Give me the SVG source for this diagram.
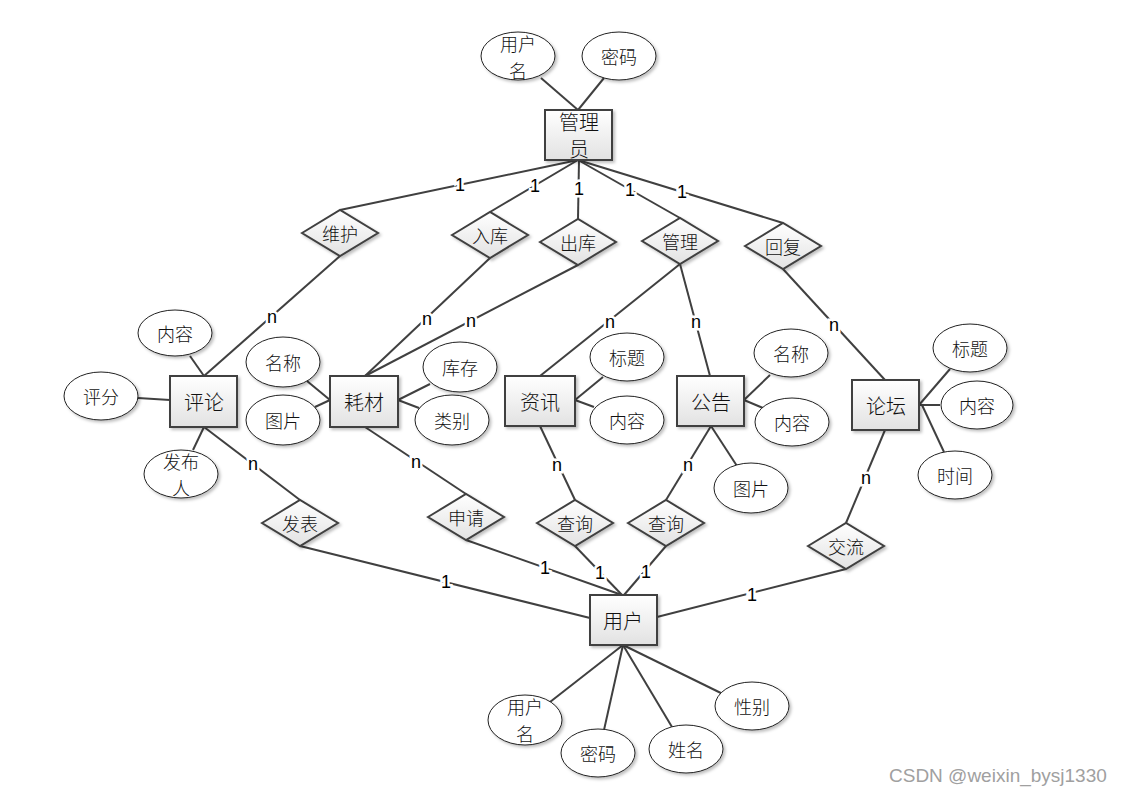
<svg xmlns="http://www.w3.org/2000/svg" width="1121" height="795" viewBox="0 0 1121 795">
<defs>
<linearGradient id="g" x1="0" y1="0" x2="0" y2="1">
<stop offset="0" stop-color="#ffffff"/>
<stop offset="1" stop-color="#e2e2e2"/>
</linearGradient>
<filter id="sh" x="-20%" y="-20%" width="150%" height="150%">
<feDropShadow dx="2" dy="2" stdDeviation="1.5" flood-color="#000" flood-opacity="0.25"/>
</filter>
<style>
.ln{stroke:#404040;stroke-width:2;fill:none}
.ent{fill:url(#g);stroke:#404040;stroke-width:2;filter:url(#sh)}
.rel{fill:url(#g);stroke:#404040;stroke-width:2;filter:url(#sh)}
.att{fill:#fff;stroke:#222;stroke-width:1;filter:url(#sh)}
.t{font-family:"Noto Sans CJK SC","Noto Sans CJK JP",sans-serif;font-size:18px;font-weight:300;text-anchor:middle;dominant-baseline:central;fill:#111}
.te{font-size:20px}
.lb{font-family:"Liberation Sans",Arial,sans-serif;font-size:18px;text-anchor:middle;dominant-baseline:central;fill:#000;stroke:#fff;stroke-width:5;paint-order:stroke}
.wm{font-family:"Liberation Sans",Arial,sans-serif;font-size:19px;fill:#a0a0a0}
</style>
</defs>
<rect width="1121" height="795" fill="#fff"/>

<g id="connectors">
<line class="ln" x1="541" y1="78" x2="578" y2="110"/>
<line class="ln" x1="604" y1="78" x2="578" y2="110"/>
<line class="ln" x1="578" y1="160" x2="340" y2="210"/>
<line class="ln" x1="578" y1="160" x2="490" y2="212"/>
<line class="ln" x1="579" y1="160" x2="578" y2="219"/>
<line class="ln" x1="578" y1="160" x2="680" y2="218"/>
<line class="ln" x1="578" y1="160" x2="783" y2="223"/>
<line class="ln" x1="340" y1="256" x2="204" y2="376"/>
<line class="ln" x1="490" y1="258" x2="365" y2="376"/>
<line class="ln" x1="578" y1="265" x2="365" y2="376"/>
<line class="ln" x1="680" y1="264" x2="540" y2="376"/>
<line class="ln" x1="680" y1="264" x2="710" y2="376"/>
<line class="ln" x1="783" y1="269" x2="885" y2="380"/>
<line class="ln" x1="204" y1="427" x2="300" y2="500"/>
<line class="ln" x1="365" y1="427" x2="466" y2="494"/>
<line class="ln" x1="540" y1="426" x2="575" y2="500"/>
<line class="ln" x1="711" y1="426" x2="666" y2="500"/>
<line class="ln" x1="885" y1="430" x2="846" y2="523"/>
<line class="ln" x1="300" y1="546" x2="590" y2="618"/>
<line class="ln" x1="466" y1="540" x2="622" y2="595"/>
<line class="ln" x1="575" y1="546" x2="622" y2="595"/>
<line class="ln" x1="666" y1="546" x2="624" y2="595"/>
<line class="ln" x1="846" y1="569" x2="657" y2="617"/>
<line class="ln" x1="190" y1="356" x2="204" y2="376"/>
<line class="ln" x1="138" y1="398" x2="170" y2="400"/>
<line class="ln" x1="193" y1="450" x2="204" y2="427"/>
<line class="ln" x1="307" y1="381" x2="330" y2="400"/>
<line class="ln" x1="315" y1="407" x2="330" y2="400"/>
<line class="ln" x1="430" y1="384" x2="398" y2="400"/>
<line class="ln" x1="419" y1="408" x2="398" y2="400"/>
<line class="ln" x1="603" y1="377" x2="575" y2="400"/>
<line class="ln" x1="594" y1="407" x2="575" y2="400"/>
<line class="ln" x1="770" y1="375" x2="744" y2="400"/>
<line class="ln" x1="763" y1="408" x2="744" y2="400"/>
<line class="ln" x1="711" y1="426" x2="737" y2="466"/>
<line class="ln" x1="950" y1="369" x2="919" y2="405"/>
<line class="ln" x1="940" y1="405" x2="919" y2="405"/>
<line class="ln" x1="944" y1="452" x2="922" y2="405"/>
<line class="ln" x1="623" y1="645" x2="550" y2="702"/>
<line class="ln" x1="623" y1="645" x2="604" y2="730"/>
<line class="ln" x1="623" y1="645" x2="672" y2="727"/>
<line class="ln" x1="623" y1="645" x2="729" y2="697"/>
<text class="lb" x="460" y="185">1</text>
<text class="lb" x="535" y="186">1</text>
<text class="lb" x="579" y="189">1</text>
<text class="lb" x="630" y="190">1</text>
<text class="lb" x="682" y="192">1</text>
<text class="lb" x="272" y="317">n</text>
<text class="lb" x="427" y="319">n</text>
<text class="lb" x="471" y="321">n</text>
<text class="lb" x="610" y="322">n</text>
<text class="lb" x="696" y="322">n</text>
<text class="lb" x="834" y="325">n</text>
<text class="lb" x="253" y="464">n</text>
<text class="lb" x="416" y="462">n</text>
<text class="lb" x="557" y="465">n</text>
<text class="lb" x="688" y="465">n</text>
<text class="lb" x="866" y="478">n</text>
<text class="lb" x="446" y="582">1</text>
<text class="lb" x="545" y="568">1</text>
<text class="lb" x="600" y="573">1</text>
<text class="lb" x="646" y="572">1</text>
<text class="lb" x="752" y="595">1</text>
</g>

<g id="admin"><rect class="ent" x="545" y="110" width="67" height="50"/><text class="t te" x="579" y="121">管理</text><text class="t te" x="579" y="148">员</text></g>
<g id="admin-username"><ellipse class="att" cx="518" cy="56" rx="37" ry="24"/><text class="t" x="518" y="43">用户</text><text class="t" x="518" y="70">名</text></g>
<g id="admin-password"><ellipse class="att" cx="619" cy="56" rx="37" ry="24"/><text class="t" x="619" y="56">密码</text></g>

<g id="rel-weihu"><polygon class="rel" points="302,233 340,210 378,233 340,256"/><text class="t" x="340" y="233">维护</text></g>
<g id="rel-ruku"><polygon class="rel" points="452,235 490,212 528,235 490,258"/><text class="t" x="490" y="235">入库</text></g>
<g id="rel-chuku"><polygon class="rel" points="540,242 578,219 616,242 578,265"/><text class="t" x="578" y="242">出库</text></g>
<g id="rel-guanli"><polygon class="rel" points="642,241 680,218 718,241 680,264"/><text class="t" x="680" y="241">管理</text></g>
<g id="rel-huifu"><polygon class="rel" points="745,246 783,223 821,246 783,269"/><text class="t" x="783" y="246">回复</text></g>

<g id="comment"><rect class="ent" x="170" y="376" width="67" height="51"/><text class="t te" x="204" y="401">评论</text></g>
<g id="comment-content"><ellipse class="att" cx="175" cy="333" rx="37" ry="23"/><text class="t" x="175" y="333">内容</text></g>
<g id="comment-score"><ellipse class="att" cx="101" cy="396" rx="37" ry="24"/><text class="t" x="101" y="396">评分</text></g>
<g id="comment-author"><ellipse class="att" cx="181" cy="474" rx="37" ry="24"/><text class="t" x="181" y="461">发布</text><text class="t" x="181" y="487">人</text></g>

<g id="material"><rect class="ent" x="330" y="376" width="68" height="51"/><text class="t te" x="364" y="401">耗材</text></g>
<g id="material-name"><ellipse class="att" cx="283" cy="362" rx="37" ry="25"/><text class="t" x="283" y="362">名称</text></g>
<g id="material-image"><ellipse class="att" cx="283" cy="420" rx="37" ry="25"/><text class="t" x="283" y="420">图片</text></g>
<g id="material-stock"><ellipse class="att" cx="460" cy="367" rx="37" ry="25"/><text class="t" x="460" y="367">库存</text></g>
<g id="material-type"><ellipse class="att" cx="452" cy="420" rx="37" ry="25"/><text class="t" x="452" y="420">类别</text></g>

<g id="news"><rect class="ent" x="505" y="376" width="70" height="50"/><text class="t te" x="540" y="401">资讯</text></g>
<g id="news-title"><ellipse class="att" cx="627" cy="357" rx="37" ry="24"/><text class="t" x="627" y="357">标题</text></g>
<g id="news-content"><ellipse class="att" cx="627" cy="420" rx="37" ry="24"/><text class="t" x="627" y="420">内容</text></g>

<g id="notice"><rect class="ent" x="677" y="376" width="67" height="50"/><text class="t te" x="711" y="401">公告</text></g>
<g id="notice-name"><ellipse class="att" cx="791" cy="353" rx="37" ry="24"/><text class="t" x="791" y="353">名称</text></g>
<g id="notice-content"><ellipse class="att" cx="792" cy="422" rx="37" ry="24"/><text class="t" x="792" y="422">内容</text></g>
<g id="notice-image"><ellipse class="att" cx="751" cy="488" rx="37" ry="25"/><text class="t" x="751" y="488">图片</text></g>

<g id="forum"><rect class="ent" x="852" y="380" width="67" height="50"/><text class="t te" x="886" y="405">论坛</text></g>
<g id="forum-title"><ellipse class="att" cx="970" cy="348" rx="37" ry="24"/><text class="t" x="970" y="348">标题</text></g>
<g id="forum-content"><ellipse class="att" cx="977" cy="405" rx="36" ry="24"/><text class="t" x="977" y="405">内容</text></g>
<g id="forum-time"><ellipse class="att" cx="955" cy="475" rx="37" ry="24"/><text class="t" x="955" y="475">时间</text></g>

<g id="rel-fabiao"><polygon class="rel" points="262,523 300,500 338,523 300,546"/><text class="t" x="300" y="523">发表</text></g>
<g id="rel-shenqing"><polygon class="rel" points="428,517 466,494 504,517 466,540"/><text class="t" x="466" y="517">申请</text></g>
<g id="rel-chaxun1"><polygon class="rel" points="537,523 575,500 613,523 575,546"/><text class="t" x="575" y="523">查询</text></g>
<g id="rel-chaxun2"><polygon class="rel" points="628,523 666,500 704,523 666,546"/><text class="t" x="666" y="523">查询</text></g>
<g id="rel-jiaoliu"><polygon class="rel" points="808,546 846,523 884,546 846,569"/><text class="t" x="846" y="546">交流</text></g>

<g id="user"><rect class="ent" x="590" y="595" width="67" height="50"/><text class="t te" x="623" y="620">用户</text></g>
<g id="user-username"><ellipse class="att" cx="525" cy="720" rx="37" ry="25"/><text class="t" x="525" y="706">用户</text><text class="t" x="525" y="733">名</text></g>
<g id="user-password"><ellipse class="att" cx="598" cy="753" rx="37" ry="24"/><text class="t" x="598" y="753">密码</text></g>
<g id="user-name"><ellipse class="att" cx="686" cy="749" rx="37" ry="24"/><text class="t" x="686" y="749">姓名</text></g>
<g id="user-gender"><ellipse class="att" cx="752" cy="706" rx="37" ry="24"/><text class="t" x="752" y="706">性别</text></g>

<text class="wm" x="889" y="782">CSDN @weixin_bysj1330</text>
</svg>
